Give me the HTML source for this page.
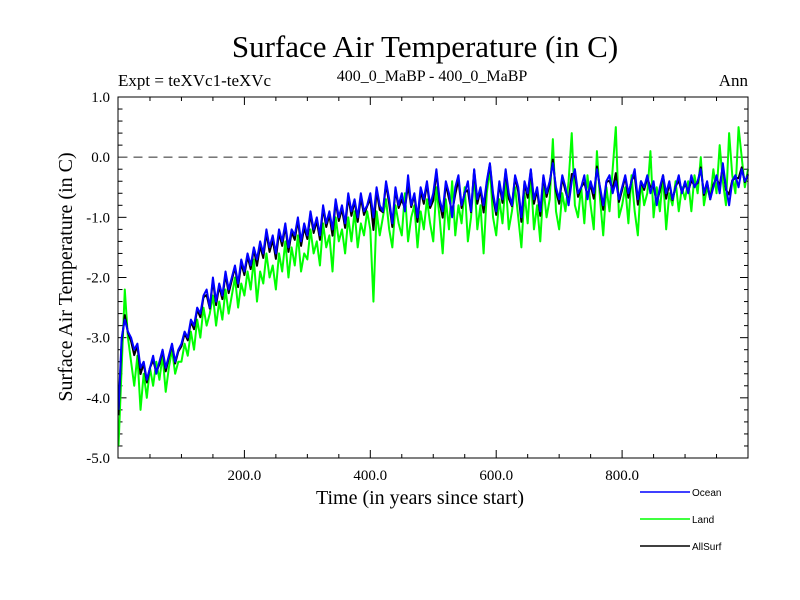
<!DOCTYPE html>
<html><head><meta charset="utf-8"><style>
body{margin:0;background:#fff}
svg{display:block}
.s{font-family:"Liberation Serif",serif;fill:#000}
.a{font-family:"Liberation Sans",sans-serif;fill:#000}
</style></head><body>
<svg id="c" width="800" height="600">
<text class="s" x="425" y="57" font-size="31" text-anchor="middle">Surface Air Temperature (in C)</text>
<text class="s" x="118" y="86" font-size="17">Expt = teXVc1-teXVc</text>
<text class="s" x="432" y="81" font-size="16" text-anchor="middle">400_0_MaBP - 400_0_MaBP</text>
<text class="s" x="748" y="86" font-size="17" text-anchor="end">Ann</text>
<text class="s" x="420" y="504" font-size="20" text-anchor="middle">Time (in years since start)</text>
<text class="s" transform="translate(72,277) rotate(-90)" font-size="20" text-anchor="middle">Surface Air Temperature (in C)</text>
<g id="axes"></g>
<g id="series"></g>
<rect x="118" y="97" width="630" height="361" fill="none" stroke="#000" stroke-width="1"/>
<g id="legend"></g>
</svg>
<script>
const years = Array.from({length:201},(_,i)=>i*5);
const ocean = [
-4.2,-3.0,-2.7,-2.9,-3.0,-3.2,-3.1,-3.5,-3.4,-3.7,-3.5,-3.3,-3.6,-3.4,-3.2,-3.5,-3.3,-3.1,-3.4,-3.2,
-3.1,-2.9,-3.0,-2.7,-2.8,-2.5,-2.6,-2.3,-2.2,-2.5,-2.0,-2.4,-2.1,-2.3,-1.9,-2.2,-2.0,-1.8,-2.1,-1.7,
-1.9,-1.6,-1.8,-1.5,-1.7,-1.4,-1.6,-1.2,-1.5,-1.3,-1.6,-1.2,-1.4,-1.1,-1.5,-1.2,-1.3,-1.0,-1.4,-1.1,
-1.3,-0.9,-1.2,-1.0,-1.3,-0.8,-1.1,-0.9,-1.2,-0.7,-1.0,-0.8,-1.1,-0.6,-0.9,-0.7,-1.0,-0.6,-0.9,-0.8,
-0.6,-1.0,-0.5,-0.8,-0.9,-0.4,-0.7,-1.1,-0.5,-0.8,-0.6,-0.9,-0.3,-0.8,-0.6,-1.0,-0.5,-0.7,-0.4,-0.8,
-0.6,-0.2,-0.7,-0.9,-0.4,-0.6,-1.0,-0.5,-0.3,-0.8,-0.6,-0.4,-0.9,-0.2,-0.7,-0.5,-0.8,-0.4,-0.1,-0.6,
-0.9,-0.4,-0.7,-0.2,-0.6,-0.8,-0.3,-0.5,-1.0,-0.4,-0.6,-0.2,-0.7,-0.5,-0.9,-0.3,-0.6,-0.4,-0.1,-0.5,
-0.7,-0.3,-0.5,-0.8,-0.4,-0.2,-0.6,-0.5,-0.3,-0.7,-0.4,-0.6,-0.2,-0.5,-0.8,-0.4,-0.3,-0.6,-0.4,-0.7,
-0.5,-0.3,-0.6,-0.4,-0.2,-0.7,-0.4,-0.5,-0.3,-0.6,-0.4,-0.8,-0.5,-0.3,-0.6,-0.4,-0.7,-0.5,-0.3,-0.6,
-0.4,-0.6,-0.3,-0.5,-0.4,-0.2,-0.6,-0.4,-0.7,-0.5,-0.3,-0.6,-0.1,-0.5,-0.8,-0.4,-0.3,-0.5,-0.2,-0.4,
-0.3];
const land = [
-4.8,-3.5,-2.2,-3.0,-3.4,-3.8,-3.3,-4.2,-3.6,-4.0,-3.5,-3.8,-3.4,-3.7,-3.3,-3.9,-3.5,-3.2,-3.6,-3.4,
-3.4,-3.1,-3.3,-2.9,-3.2,-2.7,-3.0,-2.5,-2.8,-2.6,-2.3,-2.8,-2.4,-2.7,-2.2,-2.6,-2.3,-2.0,-2.5,-2.1,
-2.3,-1.9,-2.2,-1.7,-2.4,-1.9,-2.1,-1.6,-2.0,-1.8,-2.2,-1.6,-1.9,-1.4,-2.0,-1.5,-1.8,-1.3,-1.9,-1.6,
-1.7,-1.2,-1.6,-1.4,-1.8,-1.1,-1.5,-1.3,-1.9,-1.0,-1.4,-1.2,-1.6,-1.0,-1.4,-0.9,-1.5,-1.1,-1.3,-0.9,
-1.2,-2.4,-0.9,-1.3,-1.0,-0.7,-1.2,-1.5,-0.8,-1.1,-1.3,-0.6,-1.4,-1.0,-0.8,-1.5,-0.9,-1.2,-0.7,-1.1,
-1.4,-0.5,-1.0,-1.6,-0.7,-1.2,-0.4,-1.3,-0.8,-1.1,-0.5,-1.4,-1.0,-0.3,-1.2,-0.8,-1.6,-0.6,-0.2,-1.0,
-1.3,-0.7,-1.1,-0.4,-1.2,-0.9,-0.5,-1.0,-1.5,-0.6,-1.1,-0.3,-1.2,-0.8,-1.4,-0.5,-1.0,-0.7,0.3,-0.9,
-1.2,-0.6,-0.9,-0.4,0.4,-0.8,-1.0,-0.5,-1.1,-0.3,-0.8,-1.2,0.1,-0.7,-1.3,-0.5,-0.9,-0.2,0.5,-1.0,
-0.8,-0.5,-1.1,-0.3,-0.9,-1.3,-0.4,-0.8,-0.6,0.1,-1.0,-0.5,-0.9,-0.3,-1.2,-0.6,-0.8,-0.4,-0.9,-0.5,
-0.7,-0.4,-0.9,-0.3,-0.6,0.0,-0.8,-0.5,-0.7,-0.2,-0.6,0.2,-0.4,-0.8,0.4,-0.3,-0.6,0.5,0.0,-0.5,
-0.2];
const allsurf = ocean.map((v,i)=>0.85*v+0.15*land[i]);
const yTicks = [1.0,0.0,-1.0,-2.0,-3.0,-4.0,-5.0];
const xTicks = [200,400,600,800];

const NS='http://www.w3.org/2000/svg';
const X0=118.5,X1=748,Y0=97,Y1=458;
const xs=v=>X0+(v/1000)*(X1-X0);
const ys=v=>Y0+(1-v)/6*(Y1-Y0);
function mk(t,a,p){const e=document.createElementNS(NS,t);for(const k in a)e.setAttribute(k,a[k]);p.appendChild(e);return e;}
const axes=document.getElementById('axes');
for(let v=50;v<1000;v+=50){const major=v%200===0,L=major?8:4,x=xs(v);
 const t1=mk('line',{x1:x,x2:x,y1:Y1,y2:Y1-L,stroke:'#000'},axes);
 
 
 const t2=mk('line',{x1:x,x2:x,y1:Y0,y2:Y0+L,stroke:'#000'},axes);
 
 }
for(let k=1;k<30;k++){const v=1-k*0.2,y=ys(v),major=k%5===0,L=major?8:4;
 const t1=mk('line',{x1:X0,x2:X0+L,y1:y,y2:y,stroke:'#000'},axes);
 
 
 const t2=mk('line',{x1:X1,x2:X1-L,y1:y,y2:y,stroke:'#000'},axes);
 
 }
yTicks.forEach(v=>{const t=mk('text',{x:110,y:ys(v)+5,'font-size':15,'text-anchor':'end',class:'s'},axes);t.textContent=v.toFixed(1);
 
 });
xTicks.forEach(v=>{const t=mk('text',{x:xs(v),y:480,'font-size':15,'text-anchor':'middle',class:'s'},axes);t.textContent=v.toFixed(1);
 
 });
const zl=mk('line',{x1:X0,x2:X1,y1:ys(0),y2:ys(0),stroke:'#666','stroke-width':1.3,'stroke-dasharray':'9,6'},axes);


const ser=document.getElementById('series');
function line(arr,col,name){const p=mk('polyline',{points:arr.map((v,i)=>xs(years[i])+','+ys(v)).join(' '),fill:'none',stroke:col,'stroke-width':2,'stroke-linejoin':'round'},ser);
 
 }
line(land,'#00ff00','land-line');
line(allsurf,'#000','allsurf-line');
line(ocean,'#0000ff','ocean-line');
const lg=document.getElementById('legend');
[['Ocean','#0000ff',492],['Land','#00ff00',519],['AllSurf','#000',546]].forEach(([n,c,y])=>{
 const l=mk('line',{x1:640,x2:690,y1:y,y2:y,stroke:c,'stroke-width':1.5},lg);
 
 
 const t=mk('text',{x:692,y:y+4,'font-size':10,class:'a'},lg);t.textContent=n;
 
 });
</script>
</body></html>
